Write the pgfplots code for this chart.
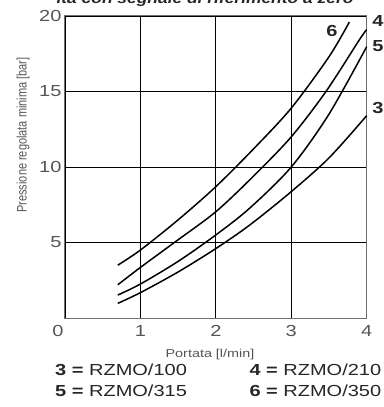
\documentclass[border=0pt]{standalone}
\usepackage{fontspec}
\setmainfont{Liberation Sans}[FakeStretch=1.25]
\newfontfamily\plainfont{Liberation Sans}
\usepackage{graphicx}
\usepackage{pgfplots}
\pgfplotsset{compat=1.18}
\definecolor{tickgray}{HTML}{555555}
\definecolor{framegray}{HTML}{707070}
\begin{document}
\begin{tikzpicture}
\begin{axis}[
  at={(0,0)}, anchor=south west,
  width=301.7pt, height=302pt, scale only axis,
  xmin=0, xmax=4, ymin=0, ymax=20,
  xtick={0,1,2,3,4}, ytick={5,10,15,20},
  xticklabels={{\hspace*{-14pt}0},1,2,3,4},
  yticklabels={5,10,15,{\raisebox{-3pt}{20}}},
  grid=major,
  major grid style={black, line width=0.7pt},
  axis line style={framegray, line width=1pt},
  tick style={draw=none},
  /pgf/number format/assume math mode=true,
  tick label style={font=\fontsize{16}{18}\selectfont, text=tickgray},
  xticklabel style={anchor=base, yshift=-18.7pt},
  yticklabel style={anchor=east, xshift=0pt},
  clip=false,
]
\addplot[black, line width=1.5pt, smooth] coordinates {(0.7,3.5) (1,4.5) (1.5,6.5) (2,8.7) (2.5,11.2) (3,13.9) (3.5,17.3) (3.77,19.6)};
\addplot[black, line width=1.5pt, smooth] coordinates {(0.7,2.2) (1,3.35) (1.45,5) (2,7.04) (2.5,9.4) (3,12) (3.46,15) (3.9,18.4) (4,19.1)};
\addplot[black, line width=1.5pt, smooth] coordinates {(0.7,1.52) (1,2.25) (1.5,3.75) (2,5.5) (2.45,7.28) (3,10) (3.5,13.5) (4,17.97)};
\addplot[black, line width=1.5pt, smooth] coordinates {(0.7,0.97) (1,1.68) (1.5,3.05) (2,4.6) (2.45,6.16) (3,8.37) (3.5,10.6) (4,13.4)};
\node[font=\fontsize{16}{18}\selectfont\bfseries, text=black!85] at (axis cs:3.54,19.0) {6};
\node[font=\fontsize{16}{18}\selectfont\bfseries, text=black!85] at (axis cs:4.15,19.7) {4};
\node[font=\fontsize{16}{18}\selectfont\bfseries, text=black!85] at (axis cs:4.15,18.0) {5};
\node[font=\fontsize{16}{18}\selectfont\bfseries, text=black!85] at (axis cs:4.15,13.9) {3};
\end{axis}
% y label
\node[rotate=90, anchor=center, text=tickgray, inner sep=0pt] at (-42pt,183pt) {\plainfont\fontsize{11}{13}\selectfont\scalebox{1}[1.25]{Pressione regolata minima [bar]}};
% x label
\node[anchor=base, text=tickgray, inner sep=0pt, font=\fontsize{11.5}{13}\selectfont] at (145pt,-39pt) {Portata [l/min]};
% legend
\node[anchor=base west, inner sep=0pt, text=black!85, font=\fontsize{16}{18}\selectfont] at (-10pt,-57pt) {\textbf{3 =} RZMO/100};
\node[anchor=base west, inner sep=0pt, text=black!85, font=\fontsize{16}{18}\selectfont] at (184.3pt,-57pt) {\textbf{4 =} RZMO/210};
\node[anchor=base west, inner sep=0pt, text=black!85, font=\fontsize{16}{18}\selectfont] at (-10pt,-78pt) {\textbf{5 =} RZMO/315};
\node[anchor=base west, inner sep=0pt, text=black!85, font=\fontsize{16}{18}\selectfont] at (184.3pt,-78pt) {\textbf{6 =} RZMO/350};
% title (cut off by the page edge as in the reference)
\node[anchor=base, inner sep=0pt, text=black!85] at (140pt,314.8pt) {\plainfont\fontsize{14.5}{16}\selectfont\bfseries\itshape\scalebox{1.2}[1]{ita con segnale di riferimento a zero}};
\pgfresetboundingbox
\path (-65pt,-89pt) rectangle (318pt,318pt);
\end{tikzpicture}
\end{document}
